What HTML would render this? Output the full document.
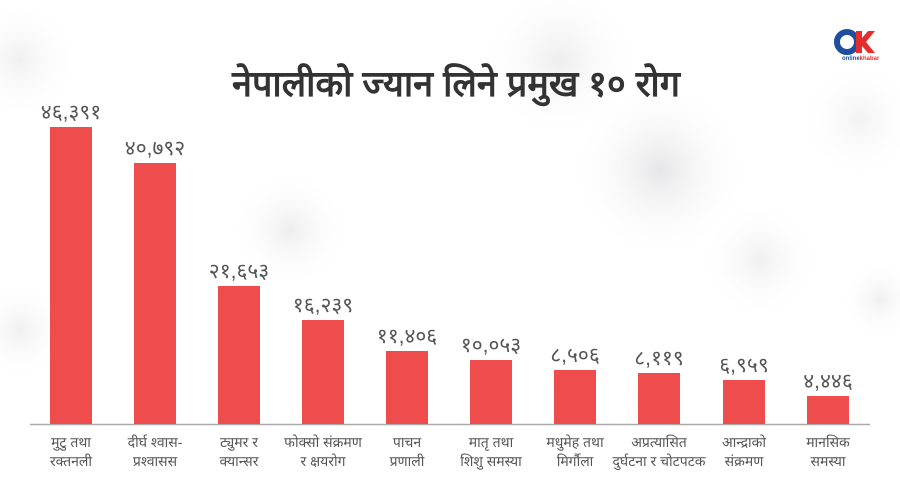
<!DOCTYPE html>
<html><head><meta charset="utf-8"><style>
html,body{margin:0;padding:0;background:#fff;}
svg{display:block;font-family:"Liberation Sans",sans-serif;}
</style></head><body>
<svg width="900" height="500" viewBox="0 0 900 500">
<defs>
<radialGradient id="g" cx="50%" cy="50%" r="50%"><stop offset="0" stop-color="#e6e6e8"/><stop offset="1" stop-color="#fff" stop-opacity="0"/></radialGradient>
</defs>
<rect width="900" height="500" fill="#fff"/>
<circle cx="660" cy="170" r="90" fill="url(#g)"/>
<circle cx="560" cy="60" r="80" fill="url(#g)" opacity="0.7"/>
<circle cx="290" cy="230" r="60" fill="url(#g)" opacity="0.7"/>
<circle cx="760" cy="260" r="60" fill="url(#g)" opacity="0.6"/>
<circle cx="20" cy="60" r="60" fill="url(#g)" opacity="0.6"/>
<circle cx="860" cy="120" r="60" fill="url(#g)" opacity="0.5"/>
<circle cx="880" cy="300" r="40" fill="url(#g)" opacity="0.6"/>
<circle cx="20" cy="330" r="50" fill="url(#g)" opacity="0.6"/>
<!-- logo -->
<circle cx="847" cy="42" r="10" fill="none" stroke="#1f4e9c" stroke-width="6"/>
<polygon points="856,31 862,31 862,38 868,31 875,31 866,42 875,53 868,53 862,46 862,53 856,53" fill="#e52d2d"/>
<text x="842" y="60" font-size="6" fill="#1f4e9c" font-weight="bold">online<tspan fill="#e52d2d">khabar</tspan></text>
<text x="456" y="96" font-size="36" font-weight="bold" fill="#333" text-anchor="middle" textLength="448" lengthAdjust="spacingAndGlyphs">नेपालीको ज्यान लिने प्रमुख १० रोग</text>
<line x1="30" y1="424.5" x2="870" y2="424.5" stroke="#aaa" stroke-width="1.5"/>
<g fill="#ef4c4e">
<rect x="50" y="127" width="42" height="297"/>
<rect x="134" y="163" width="42" height="261"/>
<rect x="218" y="286" width="42" height="138"/>
<rect x="302" y="320" width="42" height="104"/>
<rect x="386" y="351" width="42" height="73"/>
<rect x="470" y="360" width="42" height="64"/>
<rect x="554" y="370" width="42" height="54"/>
<rect x="638" y="373" width="42" height="51"/>
<rect x="723" y="380" width="42" height="44"/>
<rect x="807" y="396" width="42" height="28"/>
</g>
<g font-size="21" fill="#555" text-anchor="middle">
<text x="71" y="119">४६,३९१</text>
<text x="155" y="155">४०,७९२</text>
<text x="239" y="278">२१,६५३</text>
<text x="323" y="312">१६,२३९</text>
<text x="407" y="343">११,४०६</text>
<text x="491" y="352">१०,०५३</text>
<text x="575" y="362">८,५०६</text>
<text x="659" y="365">८,११९</text>
<text x="744" y="372">६,९५९</text>
<text x="828" y="388">४,४४६</text>
</g>
<g font-size="14" fill="#555" text-anchor="middle">
<text x="71" y="447">मुटु तथा</text><text x="71" y="466">रक्तनली</text>
<text x="155" y="447">दीर्घ श्वास-</text><text x="155" y="466">प्रश्वासस</text>
<text x="239" y="447">ट्युमर र</text><text x="239" y="466">क्यान्सर</text>
<text x="323" y="447">फोक्सो संक्रमण</text><text x="323" y="466">र क्षयरोग</text>
<text x="407" y="447">पाचन</text><text x="407" y="466">प्रणाली</text>
<text x="491" y="447">मातृ तथा</text><text x="491" y="466">शिशु समस्या</text>
<text x="575" y="447">मधुमेह तथा</text><text x="575" y="466">मिर्गौला</text>
<text x="659" y="447">अप्रत्यासित</text><text x="659" y="466">दुर्घटना र चोटपटक</text>
<text x="744" y="447">आन्द्राको</text><text x="744" y="466">संक्रमण</text>
<text x="828" y="447">मानसिक</text><text x="828" y="466">समस्या</text>
</g>
</svg>
</body></html>
